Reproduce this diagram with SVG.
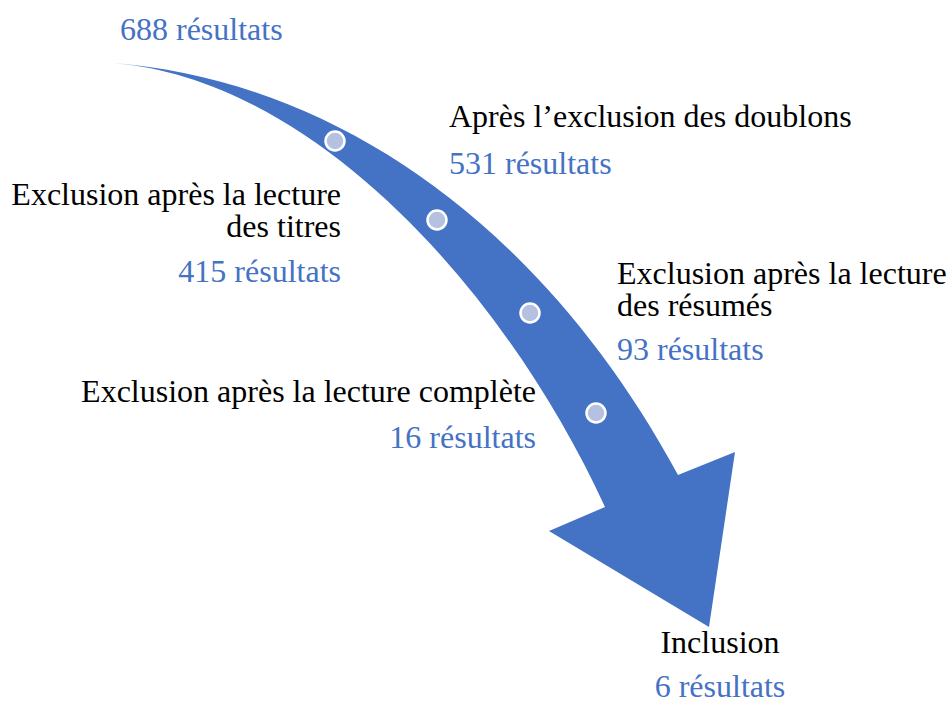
<svg xmlns="http://www.w3.org/2000/svg" width="951" height="704" viewBox="0 0 951 704">
<style>
text{font-family:'Liberation Serif',serif;font-size:32px}
.k{fill:#000}
.b{fill:#4472C4}
.e{text-anchor:end}
.m{text-anchor:middle}
.dot{fill:#B4C1E1;stroke:#fff;stroke-width:2.5}
</style>
<rect width="951" height="704" fill="#fff"/>
<g id="connectors">
<path id="arrow" d="M113,63 C330,80 540,220 678,475 L735,452 L709,627 L549,531 L605,507 C510,300 320,80 113,63 Z" fill="#4472C4"/>
</g>
<g id="dots">
<circle class="dot" cx="335" cy="141" r="9.5"/>
<circle class="dot" cx="437" cy="220" r="9.5"/>
<circle class="dot" cx="530" cy="313" r="9.5"/>
<circle class="dot" cx="596" cy="413" r="9.5"/>
</g>
<g id="start">
<text class="b" x="120" y="40">688 résultats</text>
</g>
<g id="doublons">
<text class="k" x="449" y="127">Après l’exclusion des doublons</text>
<text class="b" x="449" y="174">531 résultats</text>
</g>
<g id="titres">
<text class="k e" x="341" y="205">Exclusion après la lecture</text>
<text class="k e" x="341" y="237">des titres</text>
<text class="b e" x="341" y="282">415 résultats</text>
</g>
<g id="resumes">
<text class="k" x="617" y="284">Exclusion après la lecture</text>
<text class="k" x="617" y="316">des résumés</text>
<text class="b" x="617" y="360">93 résultats</text>
</g>
<g id="complete">
<text class="k e" x="536" y="402">Exclusion après la lecture complète</text>
<text class="b e" x="536" y="448">16 résultats</text>
</g>
<g id="inclusion">
<text class="k m" x="720" y="653">Inclusion</text>
<text class="b m" x="720" y="697">6 résultats</text>
</g>
</svg>
